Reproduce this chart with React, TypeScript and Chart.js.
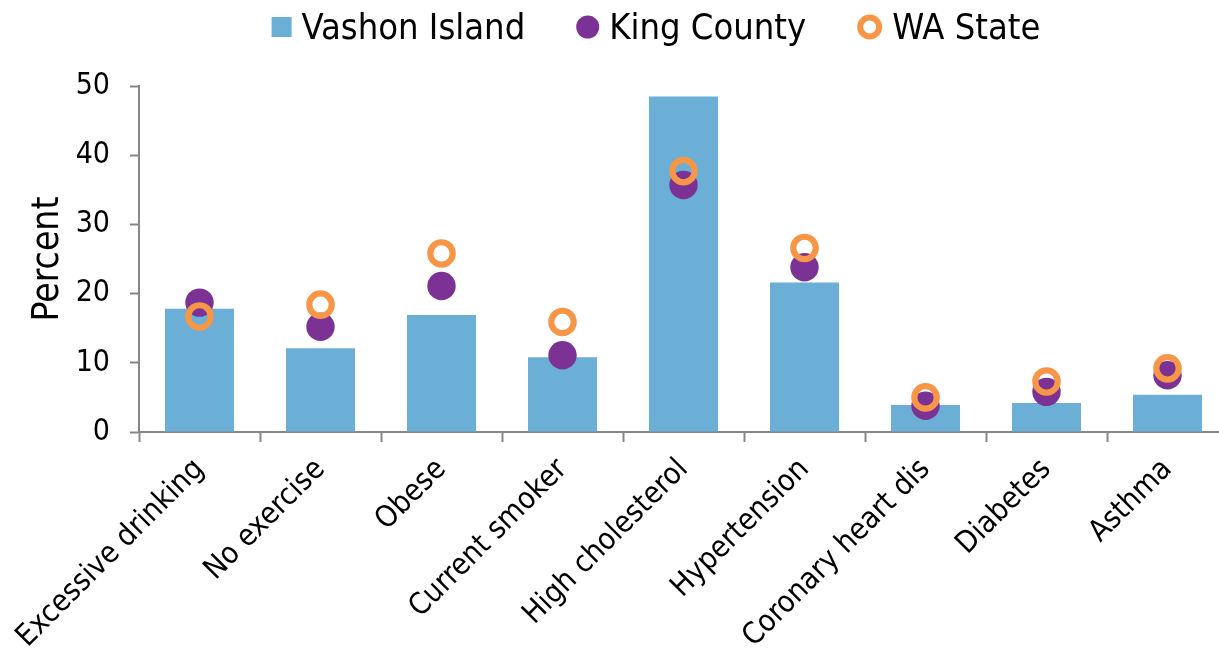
import React, { useEffect, useRef } from "react";
import { Chart, registerables } from "chart.js";

Chart.register(...registerables);

const categories = [
  "Excessive drinking",
  "No exercise",
  "Obese",
  "Current smoker",
  "High cholesterol",
  "Hypertension",
  "Coronary heart dis",
  "Diabetes",
  "Asthma",
];
const vashonIsland = [17.8, 12.1, 16.9, 10.8, 48.5, 21.6, 3.9, 4.2, 5.4];
const kingCounty = [18.7, 15.2, 21.1, 11.1, 35.7, 23.8, 3.8, 5.8, 8.2];
const waState = [16.7, 18.4, 25.8, 15.9, 37.7, 26.6, 5.0, 7.3, 9.2];
const yTicks = [0, 10, 20, 30, 40, 50];

const FONT = "'DejaVu Sans Condensed', 'DejaVu Sans', sans-serif";
const BLUE = "#6BAED6";
const PURPLE = "#7B3294";
const ORANGE = "#F79646";
const AXIS = "#878787";

// Legend drawn with the chart (marker + text), centred at the top.
const topLegend = {
  id: "topLegend",
  afterDraw(chart: any) {
    const ctx = chart.ctx as CanvasRenderingContext2D;
    const ds = chart.data.datasets;
    const markerSize = [20, 23, 25];
    const textGap = 10;
    const itemGap = 51;
    const baseline = 39;
    const midY = 27;
    ctx.save();
    ctx.font = `36px ${FONT}`;
    const widths = ds.map((d: any, i: number) => markerSize[i] + textGap + ctx.measureText(d.label).width);
    const total = widths.reduce((a: number, b: number) => a + b, 0) + itemGap * (ds.length - 1);
    let x = chart.width / 2 - total / 2;
    ds.forEach((d: any, i: number) => {
      const m = markerSize[i];
      if (i === 0) {
        ctx.fillStyle = BLUE;
        ctx.fillRect(x, midY - m / 2, m, m);
      } else if (i === 1) {
        ctx.fillStyle = PURPLE;
        ctx.beginPath();
        ctx.arc(x + m / 2, midY, m / 2, 0, Math.PI * 2);
        ctx.fill();
      } else {
        ctx.strokeStyle = ORANGE;
        ctx.lineWidth = 6;
        ctx.beginPath();
        ctx.arc(x + m / 2, midY, (m - 6) / 2, 0, Math.PI * 2);
        ctx.stroke();
      }
      ctx.fillStyle = "#000";
      ctx.textAlign = "left";
      ctx.textBaseline = "alphabetic";
      ctx.fillText(d.label, x + m + textGap, baseline);
      x += widths[i] + itemGap;
    });
    ctx.restore();
  },
};

export default function App() {
  const ref = useRef<HTMLCanvasElement>(null);
  useEffect(() => {
    const chart = new Chart(ref.current!, {
      type: "bar",
      data: {
        labels: categories,
        datasets: [
          {
            type: "bar",
            label: "Vashon Island",
            data: vashonIsland,
            backgroundColor: BLUE,
            borderWidth: 0,
            barPercentage: 0.57,
            categoryPercentage: 1,
            order: 3,
          } as any,
          {
            type: "line",
            label: "King County",
            data: kingCounty,
            showLine: false,
            pointRadius: 14.2,
            pointHoverRadius: 14.2,
            pointBackgroundColor: PURPLE,
            pointBorderWidth: 0,
            backgroundColor: PURPLE,
            borderColor: PURPLE,
            borderWidth: 0,
            order: 2,
          } as any,
          {
            type: "line",
            label: "WA State",
            data: waState,
            showLine: false,
            pointRadius: 11.2,
            pointHoverRadius: 11.2,
            pointBorderWidth: 6.2,
            pointBackgroundColor: "rgba(0,0,0,0)",
            pointBorderColor: ORANGE,
            backgroundColor: "rgba(0,0,0,0)",
            borderColor: ORANGE,
            borderWidth: 6,
            order: 1,
          } as any,
        ],
      },
      options: {
        animation: false,
        responsive: true,
        maintainAspectRatio: false,
        layout: { padding: { left: 1, right: 84, top: 86, bottom: 0 } },
        plugins: {
          tooltip: { enabled: false },
          legend: { display: false },
        },
        scales: {
          x: {
            offset: true,
            afterFit: (s: any) => {
              s.paddingLeft = 0;
              s.paddingRight = 0;
              s.height = 220;
            },
            grid: {
              offset: true,
              drawOnChartArea: false,
              drawTicks: true,
              tickLength: 10,
              tickColor: AXIS,
              tickWidth: 2,
            },
            border: { display: true, color: AXIS, width: 2 },
            ticks: {
              autoSkip: false,
              maxRotation: 45,
              minRotation: 45,
              color: "#000",
              padding: 10,
              font: { family: FONT, size: 30 },
            },
          },
          y: {
            min: 0,
            max: 50,
            afterBuildTicks: (s: any) => {
              s.ticks = yTicks.map((v) => ({ value: v }));
            },
            afterFit: (s: any) => {
              s.width = 138;
            },
            grid: {
              drawOnChartArea: false,
              drawTicks: true,
              tickLength: 9,
              tickColor: AXIS,
              tickWidth: 2,
            },
            border: { display: true, color: AXIS, width: 2 },
            ticks: {
              color: "#000",
              padding: 20,
              font: { family: FONT, size: 30 },
            },
            title: {
              display: true,
              text: "Percent",
              color: "#000",
              font: { family: FONT, size: 37 },
              padding: { top: 25, bottom: 7 },
            },
          },
        },
      } as any,
      plugins: [topLegend],
    });
    return () => chart.destroy();
  }, []);

  return (
    <div
      style={{
        position: "fixed",
        left: 0,
        top: 0,
        width: 1219,
        height: 652,
        overflow: "hidden",
        background: "#fff",
      }}
    >
      <div style={{ position: "relative", width: 1312, height: 652 }}>
        <canvas ref={ref} />
      </div>
    </div>
  );
}
